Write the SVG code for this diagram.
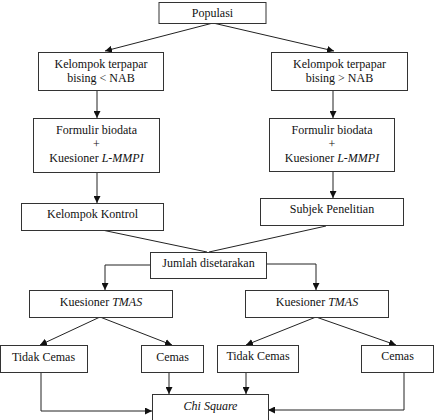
<svg xmlns="http://www.w3.org/2000/svg" width="437" height="420" viewBox="0 0 437 420" font-family="Liberation Serif, Times New Roman, serif">
<style>
.box{fill:#fff;stroke:#333;stroke-width:1}
.t{font-size:12px;fill:#111;text-anchor:middle}
.c{fill:none;stroke:#222;stroke-width:1}
.a{marker-end:url(#ah)}
</style>
<defs>
<marker id="ah" viewBox="0 0 10 10" refX="10" refY="5" markerWidth="7" markerHeight="7" markerUnits="userSpaceOnUse" orient="auto">
<path d="M0,0 L10,5 L0,10 Z" fill="#111"/>
</marker>
</defs>
<rect width="437" height="420" fill="#fff"/>
<g id="connectors">
<line class="c a" x1="213" y1="23" x2="105" y2="51"/>
<line class="c a" x1="213" y1="23" x2="334" y2="51"/>
<line class="c a" x1="97" y1="91" x2="97" y2="118"/>
<line class="c a" x1="333" y1="91" x2="333" y2="118"/>
<line class="c a" x1="97" y1="173" x2="97" y2="203"/>
<line class="c a" x1="333" y1="172" x2="333" y2="198"/>
<line class="c" x1="102" y1="230" x2="207" y2="252"/>
<line class="c" x1="326" y1="226" x2="209" y2="252"/>
<polyline class="c a" points="150,265 105,265 105,290"/>
<polyline class="c a" points="267,264 316,264 316,290"/>
<line class="c a" x1="100" y1="317" x2="40" y2="345"/>
<line class="c a" x1="100" y1="317" x2="172" y2="345"/>
<line class="c a" x1="316" y1="317" x2="246" y2="345"/>
<line class="c a" x1="316" y1="317" x2="396" y2="345"/>
<polyline class="c a" points="41,372 41,411 152,411"/>
<line class="c a" x1="169" y1="372" x2="169" y2="394"/>
<line class="c a" x1="246" y1="372" x2="246" y2="394"/>
<polyline class="c a" points="404,372 404,410 268,410"/>
</g>
<g id="populasi"><rect class="box" x="159" y="2.5" width="107" height="21"/><text class="t" x="212.5" y="17">Populasi</text></g>
<g id="kel-kiri"><rect class="box" x="38.5" y="52.5" width="125" height="38"/><text class="t" x="101" y="67.5">Kelompok terpapar</text><text class="t" x="101" y="81.5">bising &lt; NAB</text></g>
<g id="kel-kanan"><rect class="box" x="271.5" y="52.5" width="136" height="38"/><text class="t" x="339.5" y="67.5">Kelompok terpapar</text><text class="t" x="339.5" y="81.5">bising &gt; NAB</text></g>
<g id="form-kiri"><rect class="box" x="33.5" y="118.5" width="126" height="54"/><text class="t" x="96.5" y="134">Formulir biodata</text><text class="t" x="96.5" y="148">+</text><text class="t" x="96.5" y="162">Kuesioner <tspan font-style="italic">L-MMPI</tspan></text></g>
<g id="form-kanan"><rect class="box" x="269.5" y="118.5" width="125" height="53"/><text class="t" x="332" y="134">Formulir biodata</text><text class="t" x="332" y="148">+</text><text class="t" x="332" y="162">Kuesioner <tspan font-style="italic">L-MMPI</tspan></text></g>
<g id="kontrol"><rect class="box" x="21.5" y="203.5" width="142" height="27"/><text class="t" x="92.5" y="218">Kelompok Kontrol</text></g>
<g id="subjek"><rect class="box" x="260.5" y="198.5" width="143" height="27"/><text class="t" x="332" y="213">Subjek Penelitian</text></g>
<g id="jumlah"><rect class="box" x="150.5" y="252.5" width="116" height="26"/><text class="t" x="208.5" y="267">Jumlah disetarakan</text></g>
<g id="tmas-kiri"><rect class="box" x="29.5" y="290.5" width="143" height="27"/><text class="t" x="101" y="305.5">Kuesioner <tspan font-style="italic">TMAS</tspan></text></g>
<g id="tmas-kanan"><rect class="box" x="245.5" y="290.5" width="143" height="27"/><text class="t" x="317" y="305.5">Kuesioner <tspan font-style="italic">TMAS</tspan></text></g>
<g id="tidak-kiri"><rect class="box" x="0.5" y="345.5" width="87" height="27"/><text class="t" x="43.5" y="361">Tidak Cemas</text></g>
<g id="cemas-kiri"><rect class="box" x="141.5" y="345.5" width="62" height="27"/><text class="t" x="172.5" y="361">Cemas</text></g>
<g id="tidak-kanan"><rect class="box" x="217.5" y="345.5" width="81" height="27"/><text class="t" x="258" y="360">Tidak Cemas</text></g>
<g id="cemas-kanan"><rect class="box" x="361.5" y="345.5" width="72" height="27"/><text class="t" x="397.5" y="360">Cemas</text></g>
<g id="chi"><rect class="box" x="152.5" y="394.5" width="116" height="30"/><text class="t" x="210.5" y="410" font-style="italic">Chi Square</text></g>
</svg>
